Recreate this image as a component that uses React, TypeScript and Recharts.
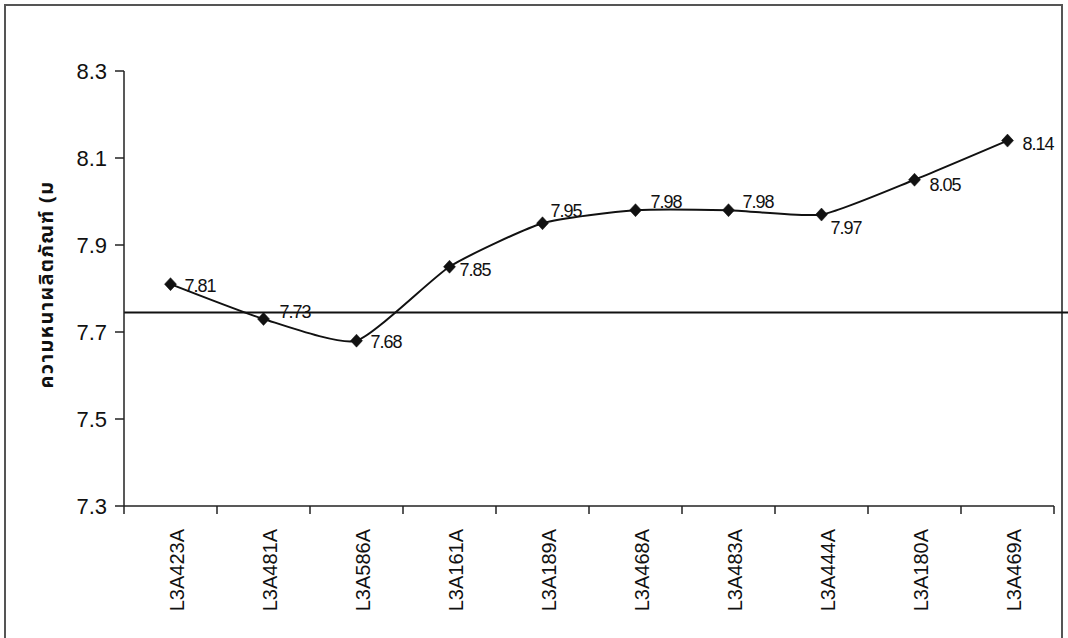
import React from 'react';
import { ComposedChart, Line, XAxis, YAxis, ReferenceLine, LabelList } from 'recharts';

const categories = ['L3A423A', 'L3A481A', 'L3A586A', 'L3A161A', 'L3A189A', 'L3A468A', 'L3A483A', 'L3A444A', 'L3A180A', 'L3A469A'];
const thickness = [7.81, 7.73, 7.68, 7.85, 7.95, 7.98, 7.98, 7.97, 8.05, 8.14];
const yTicks = [7.3, 7.5, 7.7, 7.9, 8.1, 8.3];
const referenceValue = 7.745;
const yAxisTitle = 'ความหนาผลิตภัณฑ์ (ม';

const data = categories.map((name, i) => ({ name, value: thickness[i] }));

// layout / style constants
const W = 1068;
const H = 638;
const margin = { top: 71, right: 14, bottom: 0, left: 0 };
const yAxisWidth = 124;
const xAxisHeight = 132;
const plotWidth = W - margin.left - yAxisWidth - margin.right;
const halfBand = plotWidth / categories.length / 2;
const FONT = '"Liberation Sans", Arial, sans-serif';
const INK = '#111';
// label offsets (dx to left edge of text, dy of text centre) relative to each point
const labelOffsets: [number, number][] = [
  [14, 2], [16, -7], [14, 1], [10, 3], [8, -12], [15, -8], [14, -8], [9, 13], [15, 5], [15, 3],
];

// Excel-like smoothed line: cardinal spline curve factory
class SmoothCurve {
  _context: any; _k: number; _line: any; _point = 0;
  _x0 = NaN; _x1 = NaN; _x2 = NaN; _y0 = NaN; _y1 = NaN; _y2 = NaN;
  constructor(context: any, k: number) { this._context = context; this._k = k; }
  areaStart() { this._line = 0; }
  areaEnd() { this._line = NaN; }
  lineStart() {
    this._x0 = this._x1 = this._x2 = this._y0 = this._y1 = this._y2 = NaN;
    this._point = 0;
  }
  lineEnd() {
    switch (this._point) {
      case 2: this._context.lineTo(this._x2, this._y2); break;
      case 3: this.seg(this._x1, this._y1); break;
    }
    if (this._line || (this._line !== 0 && this._point === 1)) this._context.closePath();
    this._line = 1 - this._line;
  }
  seg(x: number, y: number) {
    this._context.bezierCurveTo(
      this._x1 + this._k * (this._x2 - this._x0),
      this._y1 + this._k * (this._y2 - this._y0),
      this._x2 + this._k * (this._x1 - x),
      this._y2 + this._k * (this._y1 - y),
      this._x2,
      this._y2
    );
  }
  point(x: number, y: number) {
    x = +x; y = +y;
    switch (this._point) {
      case 0: this._point = 1; this._line ? this._context.lineTo(x, y) : this._context.moveTo(x, y); break;
      case 1: this._point = 2; this._x1 = x; this._y1 = y; break;
      case 2: this._point = 3; this.seg(x, y); break;
      default: this.seg(x, y); break;
    }
    this._x0 = this._x1; this._x1 = this._x2; this._x2 = x;
    this._y0 = this._y1; this._y1 = this._y2; this._y2 = y;
  }
}
const excelSmooth = (context: any) => new SmoothCurve(context, 0.55 / 6);

const Diamond = (props: any) => {
  const { cx, cy } = props;
  if (cx == null || cy == null) return null;
  return (
    <polygon
      points={`${cx},${cy - 6.5} ${cx + 6},${cy} ${cx},${cy + 6.5} ${cx - 6},${cy}`}
      fill={INK}
      stroke={INK}
      strokeWidth={0.5}
    />
  );
};

const XTick = (props: any) => {
  const { x, y, payload, index } = props;
  const last = index === categories.length - 1;
  return (
    <g>
      <line x1={x - halfBand} y1={y} x2={x - halfBand} y2={y + 8} stroke="#222" strokeWidth={1.5} />
      {last && <line x1={x + halfBand} y1={y} x2={x + halfBand} y2={y + 8} stroke="#222" strokeWidth={1.5} />}
      <g transform={`translate(${x + 13},${y + 23}) rotate(-90)`}>
        <text x={0} y={0} textAnchor="end" fontSize={20} fontFamily={FONT} fill={INK}>
          {payload.value}
        </text>
      </g>
    </g>
  );
};

const PointLabel = (props: any) => {
  const { x, y, value, index } = props;
  const [dx, dy] = labelOffsets[index] || [12, 0];
  return (
    <text
      x={x + dx}
      y={y + dy}
      dominantBaseline="central"
      fontSize={18}
      fontFamily={FONT}
      fill={INK}
      letterSpacing={-1}
    >
      {Number(value).toFixed(2)}
    </text>
  );
};

const YTitle = (props: any) => {
  const vb = props.viewBox || { x: 0, y: 71, width: 124, height: 435 };
  const cx = vb.x + 47;
  const cy = vb.y + vb.height / 2 - 4;
  return (
    <text
      x={cx}
      y={cy}
      transform={`rotate(-90 ${cx} ${cy})`}
      textAnchor="middle"
      dominantBaseline="central"
      fontSize={20}
      fontWeight="bold"
      letterSpacing={1.3}
      fill={INK}
      fontFamily='"Noto Sans Thai", "Noto Sans", "DejaVu Sans", sans-serif'
    >
      {yAxisTitle}
    </text>
  );
};

export default function App() {
  return (
    <div style={{ position: 'absolute', left: 0, top: 0, width: W, height: H, overflow: 'hidden', background: '#fff' }}>
      <div
        style={{
          position: 'absolute',
          left: 4,
          top: 4,
          width: 1059,
          height: 700,
          border: '2px solid #555',
          boxSizing: 'border-box',
        }}
      />
      <div style={{ position: 'absolute', left: 0, top: 0 }}>
        <ComposedChart width={W} height={H} data={data} margin={margin}>
          <XAxis
            dataKey="name"
            scale="band"
            interval={0}
            height={xAxisHeight}
            tickLine={false}
            tickSize={0}
            tickMargin={0}
            axisLine={{ stroke: '#222', strokeWidth: 1.5 }}
            tick={<XTick />}
          />
          <YAxis
            type="number"
            domain={[7.3, 8.3]}
            ticks={yTicks}
            width={yAxisWidth}
            tickSize={9}
            tickMargin={8}
            tickFormatter={(v: number) => v.toFixed(1)}
            axisLine={{ stroke: '#222', strokeWidth: 1.5 }}
            tickLine={{ stroke: '#222', strokeWidth: 1.5 }}
            tick={{ fontSize: 22, fill: INK, fontFamily: FONT }}
            label={<YTitle />}
          />
          <ReferenceLine
            y={referenceValue}
            ifOverflow="visible"
            shape={(p: any) => (
              <line x1={p.x1} y1={p.y1} x2={W} y2={p.y2} stroke={INK} strokeWidth={2} />
            )}
          />
          <Line
            type={excelSmooth as any}
            dataKey="value"
            stroke={INK}
            strokeWidth={2}
            dot={<Diamond />}
            activeDot={false}
            isAnimationActive={false}
          >
            <LabelList dataKey="value" content={<PointLabel />} />
          </Line>
        </ComposedChart>
      </div>
    </div>
  );
}
